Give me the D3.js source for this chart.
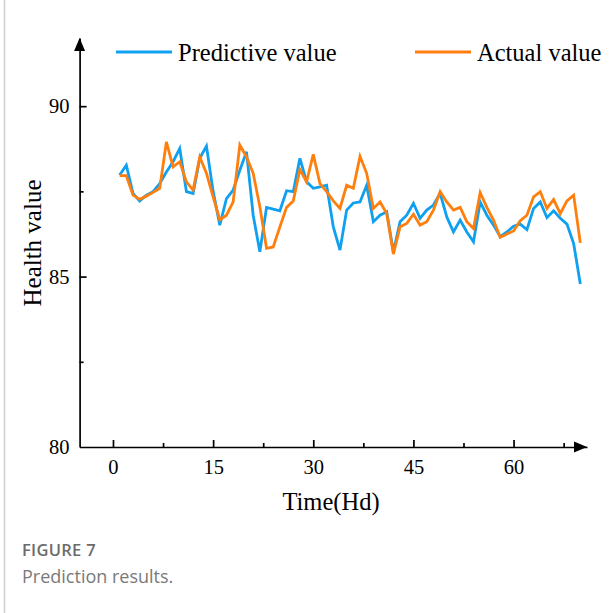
<!DOCTYPE html>
<html>
<head>
<meta charset="utf-8">
<script src="https://cdn.jsdelivr.net/npm/d3@7"></script>
<style>
  body { margin: 0; background: #fff; }
  svg { display: block; }
  .axis path, .axis line { stroke: #000; stroke-width: 1.7; }
  .axis text { font-family: "Liberation Serif", "Times New Roman", serif; font-size: 20.5px; fill: #000; }
</style>
</head>
<body>
<svg id="chart" width="612" height="613"></svg>
<script>
// time steps (Hd)
var time = d3.range(1, 71);

var predictive = [87.98, 88.27, 87.44, 87.22, 87.39, 87.49, 87.73, 88.07, 88.37, 88.76,
  87.49, 87.44, 88.47, 88.83, 87.5, 86.51, 87.29, 87.54, 88.12, 88.66,
  86.8, 85.73, 87.03, 86.98, 86.93, 87.52, 87.49, 88.47, 87.78, 87.59,
  87.63, 87.68, 86.46, 85.78, 86.95, 87.16, 87.19, 87.68, 86.61, 86.8,
  86.9, 85.73, 86.61, 86.8, 87.15, 86.71, 86.95, 87.1, 87.44, 86.75,
  86.31, 86.66, 86.31, 86.02, 87.19, 86.8, 86.51, 86.17, 86.31, 86.48,
  86.54, 86.38, 87.0, 87.19, 86.73, 86.93, 86.71, 86.54, 85.97, 84.78];

var actual = [87.96, 87.96, 87.39, 87.27, 87.36, 87.47, 87.59, 88.95, 88.22, 88.37,
  87.78, 87.54, 88.51, 88.03, 87.34, 86.66, 86.8, 87.19, 88.86, 88.51,
  88.03, 87.05, 85.83, 85.87, 86.46, 87.03, 87.22, 88.14, 87.78, 88.59,
  87.73, 87.49, 87.22, 87.0, 87.68, 87.59, 88.53, 88.03, 87.0, 87.19,
  86.85, 85.66, 86.46, 86.56, 86.83, 86.51, 86.61, 86.95, 87.49, 87.19,
  86.95, 87.03, 86.61, 86.41, 87.46, 87.03, 86.66, 86.15, 86.25, 86.34,
  86.64, 86.8, 87.34, 87.49, 87.0, 87.26, 86.85, 87.22, 87.39, 85.99];

var xTicks = [0, 15, 30, 45, 60];
var xMinor = [7.5, 22.5, 37.5, 52.5, 67.5];
var yTicks = [80, 85, 90];
var yMinor = [82.5, 87.5];

var seriesNames = ["Predictive value", "Actual value"];
var seriesColors = ["#0fa0f0", "#ff7f0e"];

var svg = d3.select("#chart");

// left border of the figure box
svg.append("line")
  .attr("x1", 4.5).attr("x2", 4.5).attr("y1", 0).attr("y2", 613)
  .attr("stroke", "#d0d0d0").attr("stroke-width", 1.5);

var xScale = d3.scaleLinear().domain([-5, 71]).range([79.6, 587]);
var yScale = d3.scaleLinear().domain([80, 92]).range([447, 38]);

// x axis
var xAxis = d3.axisBottom(xScale)
  .tickValues(xTicks)
  .tickSizeInner(-7)
  .tickSizeOuter(0)
  .tickPadding(12);

svg.append("g")
  .attr("class", "x axis")
  .attr("transform", "translate(0," + yScale(80) + ")")
  .call(xAxis);

svg.append("g")
  .attr("class", "x axis minor")
  .attr("transform", "translate(0," + yScale(80) + ")")
  .call(d3.axisBottom(xScale).tickValues(xMinor).tickSizeInner(-4).tickSizeOuter(0).tickFormat(""))
  .select(".domain").remove();

// y axis
var yAxis = d3.axisLeft(yScale)
  .tickValues(yTicks)
  .tickSizeInner(-7)
  .tickSizeOuter(0)
  .tickPadding(10);

var gy = svg.append("g")
  .attr("class", "y axis")
  .attr("transform", "translate(" + xScale(-5) + ",0)")
  .call(yAxis);

gy.selectAll(".tick").filter(function (d) { return d == 80; }).select("line").remove();

svg.append("g")
  .attr("class", "y axis minor")
  .attr("transform", "translate(" + xScale(-5) + ",0)")
  .call(d3.axisLeft(yScale).tickValues(yMinor).tickSizeInner(-4).tickSizeOuter(0).tickFormat(""))
  .select(".domain").remove();

// arrow heads
var xEnd = xScale(71), yEnd = yScale(92), x0 = xScale(-5), y0 = yScale(80);
svg.append("path")
  .attr("d", "M" + xEnd + "," + y0 + " l-13,-5.5 l0,11 z")
  .attr("fill", "#000");
svg.append("path")
  .attr("d", "M" + x0 + "," + yEnd + " l-5.5,13 l11,0 z")
  .attr("fill", "#000");

// lines
var line = d3.line()
  .x(function (d, i) { return xScale(time[i]); })
  .y(function (d) { return yScale(d); });

[predictive, actual].forEach(function (s, k) {
  svg.append("path")
    .datum(s)
    .attr("fill", "none")
    .attr("stroke", seriesColors[k])
    .attr("stroke-width", 2.8)
    .attr("stroke-linejoin", "miter")
    .attr("d", line);
});

// legend
var legendX = [116, 415];
seriesNames.forEach(function (name, k) {
  svg.append("line")
    .attr("x1", legendX[k]).attr("x2", legendX[k] + 56)
    .attr("y1", 52).attr("y2", 52)
    .attr("stroke", seriesColors[k]).attr("stroke-width", 2.8);
  svg.append("text")
    .attr("x", legendX[k] + 62).attr("y", 60.5)
    .style("font-family", "'Liberation Serif', 'Times New Roman', serif")
    .style("font-size", "24.5px")
    .text(name);
});

// axis titles
svg.append("text")
  .attr("x", 331).attr("y", 510)
  .attr("text-anchor", "middle")
  .style("font-family", "'Liberation Serif', 'Times New Roman', serif")
  .style("font-size", "24.5px")
  .text("Time(Hd)");

svg.append("text")
  .attr("transform", "translate(41,243) rotate(-90)")
  .attr("text-anchor", "middle")
  .style("font-family", "'Liberation Serif', 'Times New Roman', serif")
  .style("font-size", "25px")
  .text("Health value");

// caption
svg.append("text")
  .attr("x", 22).attr("y", 556)
  .style("font-family", "'Open Sans', sans-serif")
  .style("font-size", "16.5px")
  .style("font-weight", "600")
  .style("letter-spacing", "0.3px")
  .attr("fill", "#6b6b6b")
  .text("FIGURE 7");

svg.append("text")
  .attr("x", 22).attr("y", 583)
  .style("font-family", "'Open Sans', sans-serif")
  .style("font-size", "18px")
  .attr("fill", "#7a7a7a")
  .text("Prediction results.");
</script>
</body>
</html>
